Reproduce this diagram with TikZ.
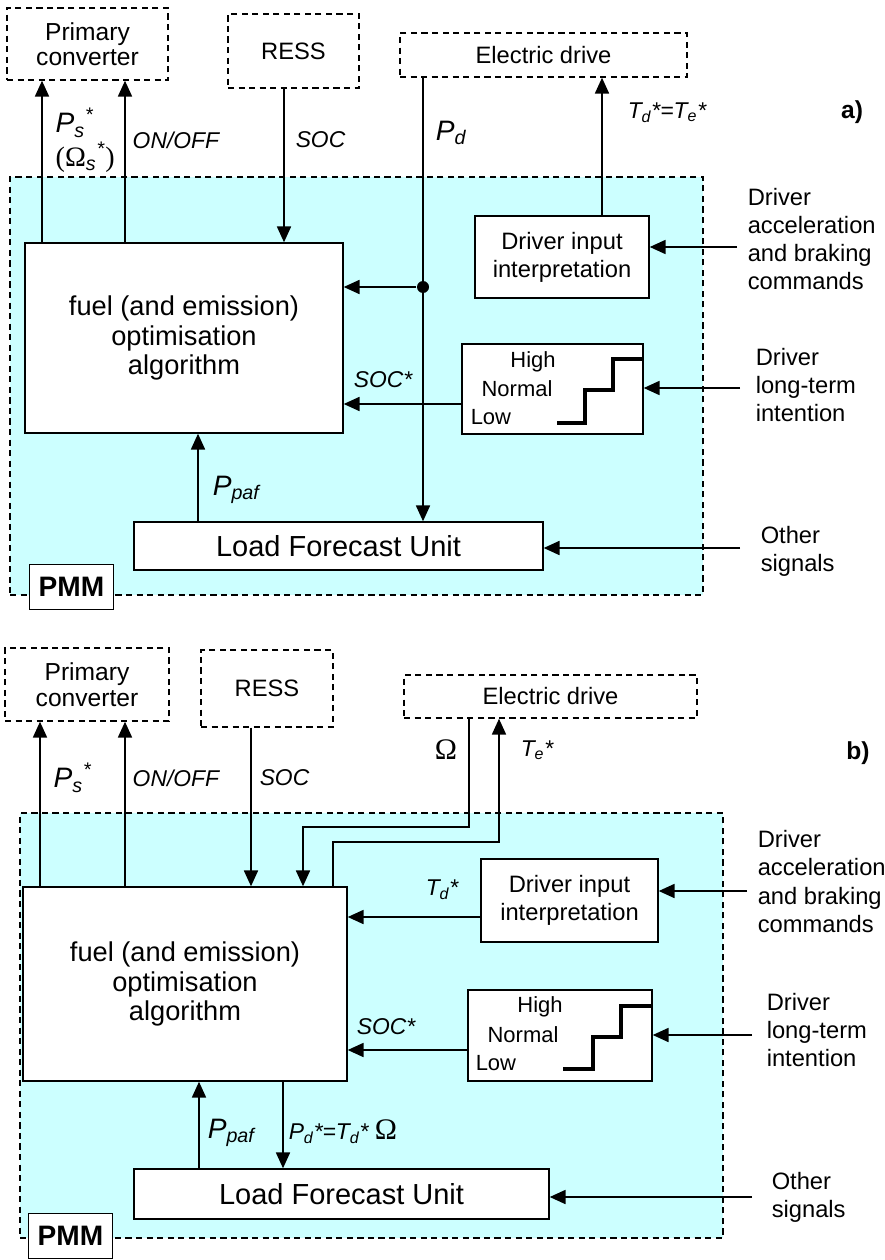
\documentclass[tikz,border=0pt]{standalone}
\usepackage{fontspec}
\setmainfont{Liberation Sans}
\newfontfamily\greekfont{Liberation Serif}
\usepackage{tikz}
\usetikzlibrary{arrows.meta,positioning}
\definecolor{pmmcyan}{RGB}{204,255,255}
\newcommand{\Om}{{\greekfont\upshape Ω}}

\begin{document}
\begin{tikzpicture}[
    x=0.02cm,
    y=-0.02cm,
    >={Triangle[length=9pt,width=8pt]},
    line width=0.85pt,
    font=\fontsize{13.5}{16}\selectfont,
    unit/.style={
		rectangle,
		draw=black,
		fill=white,
		align=center,
		inner sep=0pt
	},
	extbox/.style={
		unit,
		dash pattern=on 3.5pt off 2.5pt
	},
	zone/.style={
		rectangle,
		draw=black,
		fill=pmmcyan,
		dash pattern=on 3.5pt off 2.5pt,
		inner sep=0pt
	},
	tag/.style={
		unit,
		font=\fontsize{16}{18}\selectfont\bfseries,
		minimum width=1.68cm,
		minimum height=0.9cm
	},
	note/.style={
		anchor=west,
		align=left,
		inner sep=0pt
	},
	sig/.style={
		anchor=west,
		inner sep=0pt,
		font=\fontsize{13}{15}\selectfont\itshape
	},
	bigsig/.style={
		sig,
		font=\fontsize{16}{18}\selectfont\itshape
	},
	lvl/.style={
		inner sep=0pt,
		font=\fontsize{12.5}{15}\selectfont
	},
	stairs/.style={
		line width=2.6pt
	},
	junction/.style={
		circle,
		fill=black,
		inner sep=0pt,
		minimum size=0.24cm
	},
	panel/.style={
		inner sep=0pt,
		font=\fontsize{14}{16}\selectfont\bfseries
	}
  ]

\useasboundingbox (0,0) rectangle (885,1260);

% // panel a
\node [zone, minimum width=13.86cm, minimum height=8.36cm] (pmmzone1) at (356.5,386) {};

\node [extbox, minimum width=3.22cm, minimum height=1.44cm, font=\fontsize{14}{14.5}\selectfont] (conv1) at (87.5,44) {Primary\\converter};
\node [extbox, minimum width=2.62cm, minimum height=1.48cm] (ress1) at (293.5,51) {RESS};
\node [extbox, minimum width=5.74cm, minimum height=0.88cm] (drive1) at (543.5,55) {Electric drive};

\node [unit, minimum width=6.36cm, minimum height=3.8cm, font=\fontsize{15.5}{17}\selectfont] (fuel1) at (184,338) {fuel (and emission)\\optimisation\\algorithm};
\node [unit, minimum width=3.48cm, minimum height=1.64cm] (dii1) at (562,257) {Driver input\\interpretation};
\node [unit, minimum width=3.62cm, minimum height=1.8cm] (level1) at (552.5,389) {};
\node [unit, minimum width=8.18cm, minimum height=0.96cm, font=\fontsize{16.5}{18}\selectfont] (lfu1) at (338.5,546) {Load Forecast Unit};
\node [tag] (pmm1) at (71.5,587) {PMM};

\node [lvl] (high1) at (533,362) {High};
\node [lvl] (normal1) at (517,389) {Normal};
\node [lvl, anchor=west] (low1) at (470,417) {Low};
\draw [stairs] (557,423) -- (585,423) -- (585,390) -- (613,390) -- (613,359) -- (643,359);

\node [note] (cmd1) at (747,239) {Driver\\acceleration\\and braking\\commands};
\node [note] (wish1) at (755,385) {Driver\\long-term\\intention};
\node [note] (other1) at (760,551) {Other\\signals};
\coordinate (cmdin1) at (737,247);
\coordinate (wishin1) at (740,388);
\coordinate (otherin1) at (740,548);

\draw [->] (cmdin1) -- (dii1.east |- cmdin1);
\draw [->] (wishin1) -- (level1.east |- wishin1);
\draw [->] (otherin1) -- (lfu1.east |- otherin1);

\draw [->] (fuel1.north -| 42,0) -- (conv1.south -| 42,0);
\draw [->] (fuel1.north -| 125,0) -- (conv1.south -| 125,0);
\draw [->] (ress1.south -| 284,0) -- (fuel1.north -| 284,0);
\draw [->] (drive1.south -| 423,0) -- (lfu1.north -| 423,0);
\node [junction] (tap1) at (423,287) {};
\draw [->] (tap1) -- (fuel1.east |- tap1);
\draw [->] (dii1.north -| 602,0) -- (drive1.south -| 602,0);
\draw [->] (level1.west |- 0,404) -- (fuel1.east |- 0,404);
\draw [->] (lfu1.north -| 198,0) -- (fuel1.south -| 198,0);

\node [bigsig] (ps1) at (55,123) {P\textsubscript{s}\textsuperscript{*}};
\node [bigsig] (os1) at (55,157) {{\greekfont\upshape(Ω}\textsubscript{s}\textsuperscript{*}{\greekfont\upshape)}};
\node [sig] (onoff1) at (132,140) {ON/OFF};
\node [sig] (soc1) at (295,140) {SOC};
\node [bigsig] (pd1) at (435,133) {P\textsubscript{d}};
\node [sig] (tdte1) at (627,113) {T\textsubscript{d}*=T\textsubscript{e}*};
\node [panel] (pa) at (852,112) {a)};
\node [sig, anchor=center] (socs1) at (383,380) {SOC*};
\node [bigsig] (ppaf1) at (212,490) {P\textsubscript{paf}};

% // panel b
\node [zone, minimum width=14.06cm, minimum height=8.5cm] (pmmzone2) at (371.5,1025.5) {};

\node [extbox, minimum width=3.28cm, minimum height=1.46cm, font=\fontsize{14}{14.5}\selectfont] (conv2) at (87,684.5) {Primary\\converter};
\node [extbox, minimum width=2.64cm, minimum height=1.54cm] (ress2) at (267,688.5) {RESS};
\node [extbox, minimum width=5.86cm, minimum height=0.86cm] (drive2) at (550.5,696.5) {Electric drive};

\node [unit, minimum width=6.48cm, minimum height=3.88cm, font=\fontsize{15.5}{17}\selectfont] (fuel2) at (185,984) {fuel (and emission)\\optimisation\\algorithm};
\node [unit, minimum width=3.54cm, minimum height=1.66cm] (dii2) at (569.5,900.5) {Driver input\\interpretation};
\node [unit, minimum width=3.68cm, minimum height=1.82cm] (level2) at (560,1035.5) {};
\node [unit, minimum width=8.3cm, minimum height=1.0cm, font=\fontsize{16.5}{18}\selectfont] (lfu2) at (341.5,1194) {Load Forecast Unit};
\node [tag] (pmm2) at (70.5,1236) {PMM};

\node [lvl] (high2) at (540,1007) {High};
\node [lvl] (normal2) at (523,1035) {Normal};
\node [lvl, anchor=west] (low2) at (475,1063) {Low};
\draw [stairs] (563,1069) -- (593,1069) -- (593,1037) -- (621,1037) -- (621,1006) -- (652,1006);

\node [note] (cmd2) at (757,881.5) {Driver\\acceleration\\and braking\\commands};
\node [note] (wish2) at (766,1030) {Driver\\long-term\\intention};
\node [note] (other2) at (771,1197.5) {Other\\signals};
\coordinate (cmdin2) at (747,891);
\coordinate (wishin2) at (752,1035);
\coordinate (otherin2) at (752,1197);

\draw [->] (cmdin2) -- (dii2.east |- cmdin2);
\draw [->] (wishin2) -- (level2.east |- wishin2);
\draw [->] (otherin2) -- (lfu2.east |- otherin2);

\draw [->] (fuel2.north -| 40,0) -- (conv2.south -| 40,0);
\draw [->] (fuel2.north -| 125,0) -- (conv2.south -| 125,0);
\draw [->] (ress2.south -| 251,0) -- (fuel2.north -| 251,0);
\draw [->] (drive2.south -| 469,0) |- (303,827) -- (fuel2.north -| 303,0);
\draw [->] (fuel2.north -| 333,0) |- (499,842) -- (drive2.south -| 499,0);
\draw [->] (dii2.west |- 0,917) -- (fuel2.east |- 0,917);
\draw [->] (level2.west |- 0,1050) -- (fuel2.east |- 0,1050);
\draw [->] (lfu2.north -| 199,0) -- (fuel2.south -| 199,0);
\draw [->] (fuel2.south -| 283,0) -- (lfu2.north -| 283,0);

\node [bigsig] (ps2) at (53,778) {P\textsubscript{s}\textsuperscript{*}};
\node [sig] (onoff2) at (132,778) {ON/OFF};
\node [sig] (soc2) at (259,778) {SOC};
\node [sig, anchor=center, font=\fontsize{17}{19}\selectfont] (omega2) at (446,750) {\Om};
\node [sig] (te2) at (520,750) {T\textsubscript{e}*};
\node [panel] (pb) at (858,753) {b)};
\node [sig] (td2) at (425,890) {T\textsubscript{d}*};
\node [sig, anchor=center] (socs2) at (386,1027) {SOC*};
\node [bigsig] (ppaf2) at (207,1133) {P\textsubscript{paf}};
\node [sig] (pdstar2) at (288,1132) {P\textsubscript{d}*=T\textsubscript{d}* {\fontsize{17}{19}\selectfont\Om}};

\end{tikzpicture}
\end{document}
